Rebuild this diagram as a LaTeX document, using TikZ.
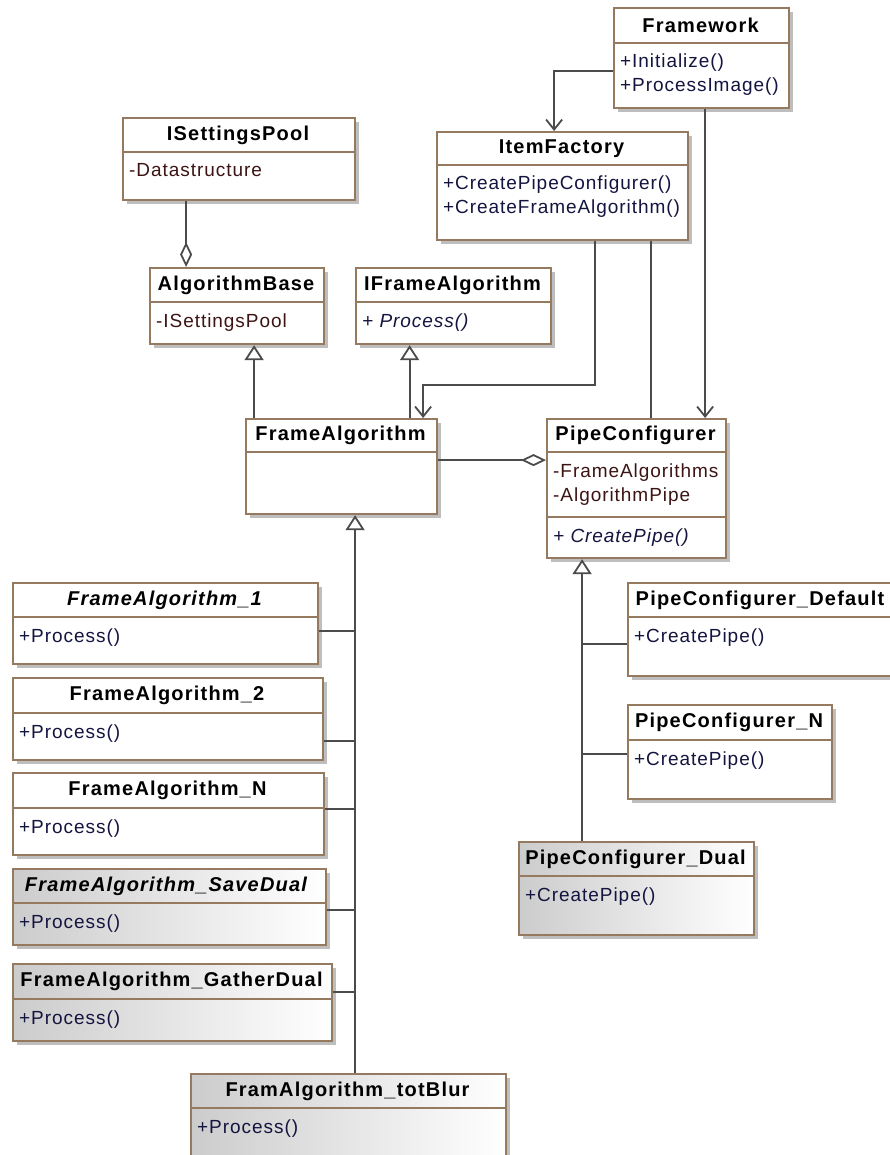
\documentclass[tikz,border=0pt]{standalone}
\usepackage{fontspec}
\setmainfont{Liberation Sans}
\newfontfamily\hdrfont[LetterSpace=6]{Liberation Sans}
\newfontfamily\bodyfont[LetterSpace=5]{Liberation Sans}
\usetikzlibrary{arrows.meta}
\definecolor{bordc}{RGB}{150,122,95}
\definecolor{linec}{RGB}{75,75,75}
\definecolor{attrc}{RGB}{60,20,20}
\definecolor{methc}{RGB}{20,20,64}
\definecolor{shadc}{RGB}{190,190,190}
\definecolor{gradc}{RGB}{204,204,204}
\tikzset{
  cls/.style={draw=bordc, line width=2.2pt, fill=white, anchor=north west, inner sep=0pt},
  gcls/.style={draw=bordc, line width=2.2pt, left color=gradc, right color=white, anchor=north west, inner sep=0pt},
  sepl/.style={draw=bordc, line width=1.6pt},
  hdr/.style={font=\hdrfont\bfseries\fontsize{20}{24}\selectfont, inner sep=0pt, text=black},
  body/.style={font=\bodyfont\fontsize{19}{23}\selectfont, inner sep=0pt, anchor=west, text height=14pt, text depth=4pt},
  attr/.style={body, text=attrc},
  meth/.style={body, text=methc},
  conn/.style={draw=linec, line width=2pt},
  nav/.style={conn, -{Straight Barb[length=10pt, width=16pt, line width=1.8pt]}},
  agg/.style={conn, -{Diamond[open, length=25pt, width=12pt, line width=1.8pt]}},
  gen/.style={conn, -{Triangle[open, length=15pt, width=19pt, line width=1.8pt]}},
}
\newcommand\umlclass[7][cls]{%
  \fill[shadc] ({#3+5},{#4+5}) rectangle ({#5+5},{#6+5});
  \node[#1, minimum width={(#5-#3)*1pt}, minimum height={(#6-#4)*1pt}] (#2) at (#3,#4) {};
  \draw[sepl] (#3,#7) -- (#5,#7);
}
\begin{document}
\begin{tikzpicture}[x=1pt, y=-1pt]
\useasboundingbox (0,0) rectangle (890,1155);
\fill[white] (0,0) rectangle (890,1155);

% classes
\umlclass{fw}{613}{7}{788}{107}{43}
\umlclass{ifac}{436}{131}{687}{239}{165}
\umlclass{isp}{122}{117}{354}{199}{152}
\umlclass{ab}{149}{267}{323}{343}{302}
\umlclass{ifa}{355}{267}{550}{343}{302}
\umlclass{fa}{245}{418}{436}{513}{452}
\umlclass{pc}{546}{418}{725}{557}{452}
\draw[sepl] (546,517) -- (725,517);
\umlclass{fa1}{12}{582}{317}{663}{617}
\umlclass{fa2}{12}{677}{322}{759}{713}
\umlclass{faN}{12}{772}{323}{854}{808}
\umlclass[gcls]{fasd}{12}{868}{325}{944}{903}
\umlclass[gcls]{fagd}{12}{963}{331}{1040}{999}
\umlclass[gcls]{ftb}{190}{1073}{505}{1170}{1108}
\umlclass{pcd}{627}{582}{895}{675}{617}
\umlclass{pcn}{627}{704}{831}{798}{740}
\umlclass[gcls]{pcdu}{518}{841}{753}{934}{876}

% texts
\node[hdr] (fw-h) at (700.5,25) {Framework};
\node[meth] (fw-m1) at (620,63) {+Initialize()};
\node[meth] (fw-m2) at (620,87) {+ProcessImage()};

\node[hdr] (ifac-h) at (561.5,148.5) {ItemFactory};
\node[meth] (ifac-m1) at (443,185) {+CreatePipeConfigurer()};
\node[meth] (ifac-m2) at (443,209) {+CreateFrameAlgorithm()};

\node[hdr] (isp-h) at (238,135) {ISettingsPool};
\node[attr] (isp-a) at (129,172) {-Datastructure};

\node[hdr] (ab-h) at (236,285) {AlgorithmBase};
\node[attr] (ab-a) at (156,322) {-ISettingsPool};

\node[hdr] (ifa-h) at (452.5,285) {IFrameAlgorithm};
\node[meth, font=\bodyfont\itshape\fontsize{19}{23}\selectfont] (ifa-m) at (362,322) {+ Process()};

\node[hdr] (fa-h) at (340.5,435.5) {FrameAlgorithm};

\node[hdr] (pc-h) at (635.5,435.5) {PipeConfigurer};
\node[attr] (pc-a1) at (553,472) {-FrameAlgorithms};
\node[attr] (pc-a2) at (553,496) {-AlgorithmPipe};
\node[meth, font=\bodyfont\itshape\fontsize{19}{23}\selectfont] (pc-m) at (553,537) {+ CreatePipe()};

\node[hdr, font=\hdrfont\bfseries\itshape\fontsize{20}{24}\selectfont] (fa1-h) at (164.5,600) {FrameAlgorithm\_1};
\node[meth] (fa1-m) at (19,637) {+Process()};
\node[hdr] (fa2-h) at (167,695.5) {FrameAlgorithm\_2};
\node[meth] (fa2-m) at (19,733) {+Process()};
\node[hdr] (faN-h) at (167.5,790.5) {FrameAlgorithm\_N};
\node[meth] (faN-m) at (19,828) {+Process()};
\node[hdr, font=\hdrfont\bfseries\itshape\fontsize{20}{24}\selectfont] (fasd-h) at (166,886) {FrameAlgorithm\_SaveDual};
\node[meth] (fasd-m) at (19,923) {+Process()};
\node[hdr] (fagd-h) at (171.5,981.5) {FrameAlgorithm\_GatherDual};
\node[meth] (fagd-m) at (19,1019) {+Process()};
\node[hdr] (ftb-h) at (347.5,1091) {FramAlgorithm\_totBlur};
\node[meth] (ftb-m) at (197,1128) {+Process()};

\node[hdr] (pcd-h) at (760,600) {PipeConfigurer\_Default};
\node[meth] (pcd-m) at (634,637) {+CreatePipe()};
\node[hdr] (pcn-h) at (729,722.5) {PipeConfigurer\_N};
\node[meth] (pcn-m) at (634,760) {+CreatePipe()};
\node[hdr] (pcdu-h) at (635.5,859) {PipeConfigurer\_Dual};
\node[meth] (pcdu-m) at (525,896) {+CreatePipe()};

% connectors
\draw[nav] ([yshift=-13pt]fw.west) -| ([xshift=-8.5pt]ifac.north);
\coordinate (c-fw) at ([xshift=3.5pt]fw.south);
\draw[nav] (c-fw) -- (c-fw |- pc.north);
\draw[nav] ([xshift=32.5pt]ifac.south) -- ++(0,144) -| ([xshift=81.5pt]fa.north);
\coordinate (c-pcif) at ([xshift=14.5pt]pc.north);
\draw[conn] (c-pcif |- ifac.south) -- (c-pcif);

\coordinate (c-ab) at ([xshift=-51pt]ab.north);
\draw[agg] (c-ab |- isp.south) -- (c-ab);
\coordinate (c-fapc) at ([yshift=6.5pt]fa.east);
\draw[agg] (c-fapc) -- (c-fapc -| pc.west);

\coordinate (c-fa1) at ([xshift=-87.5pt]fa.north);
\draw[gen] (c-fa1) -- (c-fa1 |- ab.south);
\coordinate (c-fa2) at ([xshift=68pt]fa.north);
\draw[gen] (c-fa2) -- (c-fa2 |- ifa.south);

\coordinate (ft) at ([xshift=13.5pt]fa.south);
\draw[gen] (ft |- ftb.north) -- (ft);
\coordinate (b1) at ([yshift=-7.5pt]fa1.east);
\draw[conn] (b1) -- (b1 -| ft);
\coordinate (b2) at ([yshift=-22pt]fa2.east);
\draw[conn] (b2) -- (b2 -| ft);
\coordinate (b3) at ([yshift=5pt]faN.east);
\draw[conn] (b3) -- (b3 -| ft);
\coordinate (b4) at ([yshift=-3pt]fasd.east);
\draw[conn] (b4) -- (b4 -| ft);
\coordinate (b5) at ([yshift=10.5pt]fagd.east);
\draw[conn] (b5) -- (b5 -| ft);

\coordinate (pt) at ([xshift=-54.5pt]pc.south);
\draw[gen] (pt |- pcdu.north) -- (pt);
\coordinate (b6) at ([yshift=-14.5pt]pcd.west);
\draw[conn] (b6) -- (b6 -| pt);
\coordinate (b7) at ([yshift=-2pt]pcn.west);
\draw[conn] (b7) -- (b7 -| pt);
\end{tikzpicture}
\end{document}
